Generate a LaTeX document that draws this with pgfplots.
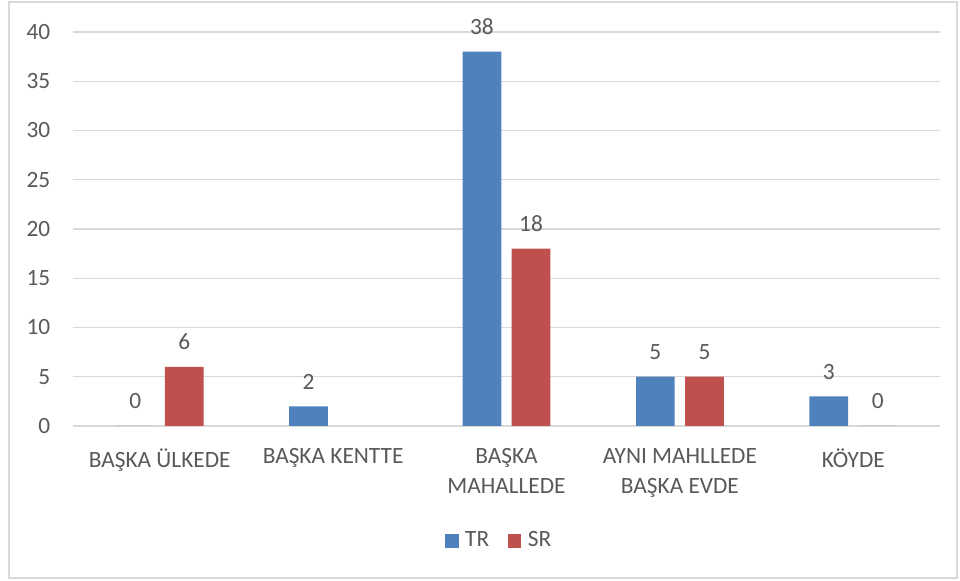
\documentclass[border=0pt]{standalone}
\usepackage{pgfplots}
\pgfplotsset{compat=1.18}
\usepackage{fontspec}
\setmainfont{Carlito}
\definecolor{txt}{HTML}{595959}
\definecolor{grd}{HTML}{D9D9D9}
\definecolor{tr}{HTML}{4F81BD}
\definecolor{sr}{HTML}{C0504D}
\begin{document}
\fontsize{17.5}{22.5}\selectfont
\begin{tikzpicture}
\path[use as bounding box] (-54.75pt,-116.25pt) rectangle (665.25pt,319.5pt);
\draw[grd, line width=0.9pt] (-48pt,-114pt) rectangle (663pt,318pt);
\begin{axis}[
  at={(0pt,0pt)}, anchor=south west,
  scale only axis, width=650.25pt, height=295.5pt,
  ybar, bar width=29pt,
  xmin=-0.5, xmax=4.5, ymin=0, ymax=40,
  ytick distance=5,
  xtick={0,1,2,3,4},
  xticklabels={BAŞKA ÜLKEDE, BAŞKA KENTTE, {BAŞKA\\MAHALLEDE}, {AYNI MAHLLEDE\\BAŞKA EVDE}, KÖYDE},
  xticklabel style={align=center, anchor=north, yshift=-11pt, font=\fontsize{17.5}{22.5}\selectfont, text=txt},
  yticklabel style={font=\fontsize{17.5}{19}\selectfont, text=txt, xshift=-11pt},
  /pgf/number format/assume math mode=true,
  major tick length=0pt,
  axis x line*=bottom, axis y line*=left,
  x axis line style={grd, line width=1pt, -},
  y axis line style={draw=none},
  ymajorgrids, grid style={grd, line width=1pt},
  nodes near coords,
  every node near coord/.append style={anchor=south, inner sep=0pt, yshift=12.5pt, font=\fontsize{17.5}{19}\selectfont, text=txt},
  legend style={at={(0.492,-0.292)}, anchor=center, draw=none, legend columns=2,
    font=\fontsize{17.5}{19}\selectfont, text=txt,
    /tikz/every even column/.append style={column sep=12pt}},
  legend image code/.code={\fill[#1,draw=none] (0pt,-5pt) rectangle (10pt,5pt);},
]
\addplot[fill=tr, draw=none, bar shift=-18.4pt] coordinates {(0,0) (1,2) (2,38) (3,5) (4,3)};
\addplot[fill=sr, draw=none, bar shift=18.4pt] coordinates {(0,6) (2,18) (3,5) (4,0)};
\legend{\hspace{3pt}TR, \hspace{3pt}SR}
\end{axis}
\end{tikzpicture}
\end{document}
